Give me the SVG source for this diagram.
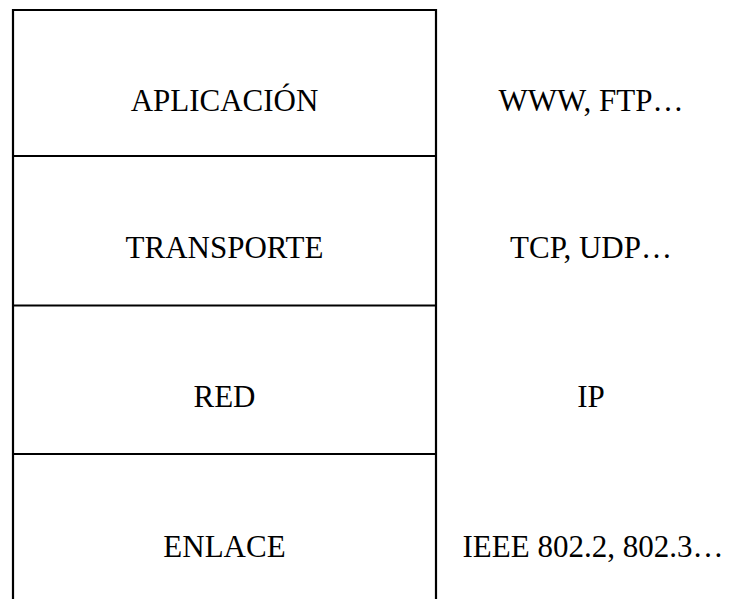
<svg xmlns="http://www.w3.org/2000/svg" width="730" height="599" viewBox="0 0 730 599">
<style>
.ln{stroke:#000;stroke-width:2.2;fill:none}
.t{font-family:"Liberation Serif","Times New Roman",serif;font-size:31px;fill:#000;text-anchor:middle}
</style>
<rect width="730" height="599" fill="#fff"/>
<g id="frame">
<path class="ln" d="M13,600 V10 H436 V600"/>
<line class="ln" x1="13" y1="156" x2="436" y2="156"/>
<line class="ln" x1="13" y1="305.5" x2="436" y2="305.5"/>
<line class="ln" x1="13" y1="454" x2="436" y2="454"/>
</g>
<g id="aplicacion"><text class="t" x="224.5" y="111">APLICACIÓN</text><text class="t" x="591" y="111">WWW, FTP…</text></g>
<g id="transporte"><text class="t" x="224.5" y="258">TRANSPORTE</text><text class="t" x="591" y="258">TCP, UDP…</text></g>
<g id="red"><text class="t" x="224.5" y="407">RED</text><text class="t" x="591" y="407">IP</text></g>
<g id="enlace"><text class="t" x="224.5" y="557">ENLACE</text><text class="t" x="593" y="557">IEEE 802.2, 802.3…</text></g>
</svg>
